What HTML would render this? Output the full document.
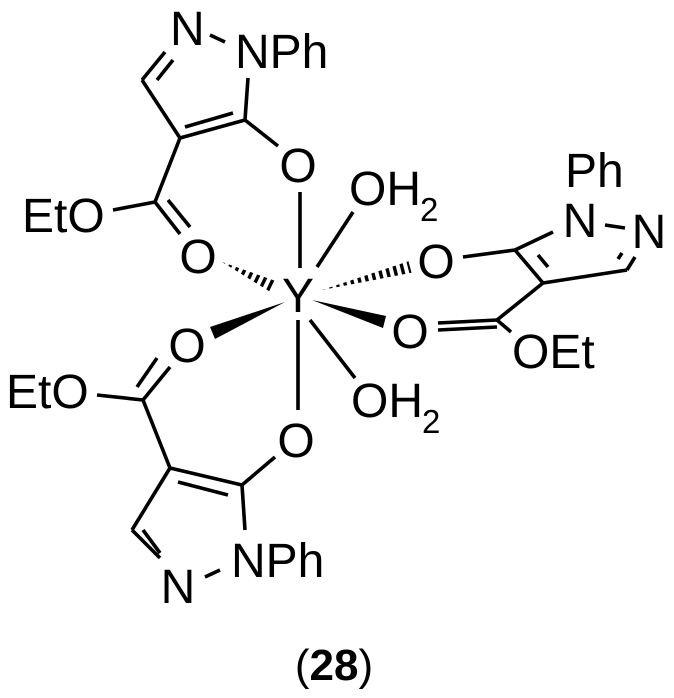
<!DOCTYPE html>
<html><head><meta charset="utf-8"><style>
html,body{margin:0;padding:0;background:#fff;}
svg{display:block;}
text{font-family:"Liberation Sans",Arial,sans-serif;font-size:48px;fill:#000;}
.s{font-size:33px;}
</style></head><body>
<svg width="674" height="698" viewBox="0 0 674 698" xmlns="http://www.w3.org/2000/svg">
<defs>
<clipPath id="h1"><polygon points="222,262 269.4,291.4 274.6,280.6"/></clipPath>
<clipPath id="h2"><polygon points="322,290 408.5,261.2 411.5,272.8"/></clipPath>
</defs>
<g stroke="#000" stroke-width="3.6" fill="none" stroke-linecap="butt">
<line x1="210" y1="35" x2="225" y2="42"/>
<line x1="165" y1="52" x2="142" y2="80"/>
<line x1="173" y1="60" x2="157" y2="80"/>
<line x1="142" y1="80" x2="180" y2="138"/>
<line x1="180" y1="138" x2="245" y2="120"/>
<line x1="185" y1="127" x2="233" y2="113"/>
<line x1="248" y1="78" x2="245" y2="120"/>
<line x1="245" y1="120" x2="278" y2="146"/>
<line x1="180" y1="138" x2="155" y2="202"/>
<line x1="155" y1="202" x2="113" y2="210"/>
<line x1="155" y1="202" x2="180" y2="234"/>
<line x1="168" y1="200" x2="190" y2="227"/>
<line x1="300" y1="192" x2="300" y2="268"/>
<line x1="353" y1="212" x2="317" y2="267"/>
<line x1="310" y1="320" x2="355" y2="378"/>
<line x1="298" y1="320" x2="298" y2="410"/>
<line x1="463" y1="257" x2="515" y2="250"/>
<line x1="515" y1="250" x2="553" y2="232"/>
<line x1="605" y1="225" x2="625" y2="228"/>
<line x1="635" y1="257" x2="627" y2="270"/>
<line x1="622" y1="253" x2="618" y2="259"/>
<line x1="627" y1="270" x2="543" y2="283"/>
<line x1="515" y1="250" x2="543" y2="283"/>
<line x1="538" y1="255" x2="548" y2="267"/>
<line x1="543" y1="283" x2="497" y2="320"/>
<line x1="438" y1="323" x2="497" y2="320"/>
<line x1="438" y1="330" x2="497" y2="327"/>
<line x1="497" y1="320" x2="511" y2="332"/>
<line x1="157" y1="358" x2="137" y2="387"/>
<line x1="170" y1="367" x2="143" y2="400"/>
<line x1="97" y1="395" x2="143" y2="400"/>
<line x1="143" y1="400" x2="170" y2="468"/>
<line x1="170" y1="468" x2="242" y2="485"/>
<line x1="178" y1="482" x2="228" y2="495"/>
<line x1="242" y1="485" x2="275" y2="457"/>
<line x1="170" y1="468" x2="132" y2="530"/>
<line x1="132" y1="530" x2="160" y2="558"/>
<line x1="143" y1="530" x2="160" y2="553"/>
<line x1="205" y1="577" x2="220" y2="570"/>
<line x1="242" y1="485" x2="245" y2="530"/>
<line x1="222" y1="262" x2="274" y2="287" stroke-width="14" stroke-dasharray="3.4 4" clip-path="url(#h1)"/>
<line x1="322" y1="290" x2="412" y2="267" stroke-width="14" stroke-dasharray="3.4 4" clip-path="url(#h2)"/>
</g>
<g fill="#000">
<polygon points="312,300 386,316 383,328"/>
<polygon points="285,302 210,327 215,339"/>
</g>
<text x="170" y="45">N</text>
<text x="235" y="68">NPh</text>
<text x="298" y="182" text-anchor="middle">O</text>
<text x="22" y="232">EtO</text>
<text x="198" y="273" text-anchor="middle">O</text>
<text x="298" y="312" text-anchor="middle">Y</text>
<text x="349" y="205">OH</text><text class="s" x="420" y="221">2</text>
<text x="436" y="278" text-anchor="middle">O</text>
<text x="565" y="187">Ph</text>
<text x="580" y="237" text-anchor="middle">N</text>
<text x="649" y="248" text-anchor="middle">N</text>
<text x="410" y="348" text-anchor="middle">O</text>
<text x="512" y="368">OEt</text>
<text x="351" y="417">OH</text><text class="s" x="422" y="433">2</text>
<text x="187" y="362" text-anchor="middle">O</text>
<text x="6" y="408">EtO</text>
<text x="296" y="457" text-anchor="middle">O</text>
<text x="178" y="603" text-anchor="middle">N</text>
<text x="231" y="577">NPh</text>
<text x="334" y="680" text-anchor="middle" style="font-size:44px">(<tspan font-weight="bold">28</tspan>)</text>
</svg>
</body></html>
